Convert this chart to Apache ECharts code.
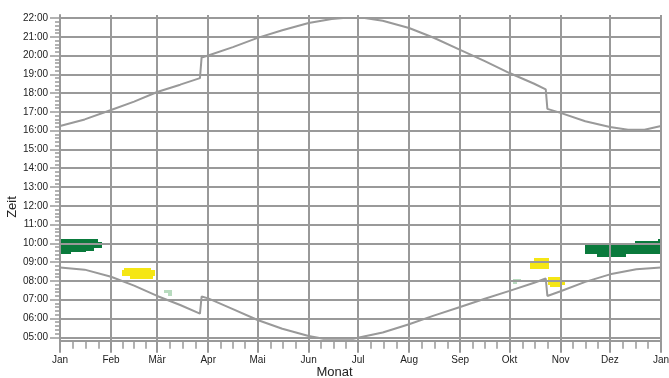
<!DOCTYPE html>
<html>
<head>
<meta charset="utf-8">
<script src="https://cdn.jsdelivr.net/npm/echarts@6/dist/echarts.min.js"></script>
<style>html,body{margin:0;padding:0;background:#fff}#c{width:669px;height:378px}</style>
</head>
<body>
<div id="c"></div>
<script>
// ---- data ----
var monthNames = ['Jan','Feb','Mär','Apr','Mai','Jun','Jul','Aug','Sep','Okt','Nov','Dez','Jan'];
var monthStarts = [0,31,59,90,120,151,181,212,243,273,304,334,365];
var hourTicks = [5,6,7,8,9,10,11,12,13,14,15,16,17,18,19,20,21,22];
var xTitle = 'Monat';
var yTitle = 'Zeit';

// sunset (upper line): [dayOfYear, hours]
var sunsetLine = [
  [0,16.25],[15,16.6],[31,17.1],[45,17.55],[59,18.06],[73,18.45],[85,18.8],[86,19.9],[90,20.0],
  [105,20.45],[120,20.94],[135,21.35],[151,21.73],[165,21.95],[172,22.0],[185,22.0],[196,21.85],
  [212,21.47],[227,20.95],[243,20.3],[258,19.7],[273,19.07],[288,18.5],[295,18.2],[296,17.16],
  [304,16.95],[319,16.5],[334,16.2],[345,16.05],[355,16.05],[365,16.25]
];
// sunrise (lower line)
var sunriseLine = [
  [0,8.72],[15,8.6],[31,8.22],[45,7.75],[59,7.2],[73,6.72],[85,6.26],[86,7.17],[90,7.07],
  [105,6.5],[120,5.92],[135,5.45],[151,5.07],[160,4.92],[178,4.92],[196,5.25],[212,5.69],
  [227,6.15],[243,6.61],[258,7.05],[273,7.47],[288,7.9],[295,8.13],[296,7.2],[304,7.45],
  [319,7.95],[334,8.35],[350,8.62],[365,8.72]
];
// patches: [dayStart, dayEnd, timeStart, timeEnd]
var darkGreenCells = [
  [0.5,23,10.07,10.22],[0.5,25.5,9.77,10.07],[0.5,20.6,9.62,9.77],[0.5,16,9.55,9.62],[0.5,6.7,9.45,9.55],
  [319,365,9.45,9.9],[322,349,9.9,10.0],[349,365,9.9,10.12],[363,365,10.12,10.23],[326,344,9.27,9.45]
];
var yellowCells = [
  [39,55.3,8.58,8.70],[37.7,57.7,8.26,8.58],[42.5,56.5,8.10,8.26],
  [288,297,9.01,9.22],[285.7,297,8.66,9.01],
  [296.4,303.6,8.05,8.22],[296.4,306.7,7.78,8.05],[297.6,303.6,7.68,7.78]
];
var lightGreenCells = [
  [63.2,68,7.36,7.52],[65.6,68,7.21,7.36],
  [275.1,280,7.97,8.09],[275.1,277.5,7.82,7.97]
];

// ---- chart ----
var minorX = [];
for (var i = 0; i < monthStarts.length - 1; i++) {
  var s = monthStarts[i], L = monthStarts[i+1] - s;
  minorX.push(s + L/4, s + L/2, s + 3*L/4);
}
var minorY = [];
for (var h = 5; h < 22; h++) { for (var k = 1; k < 5; k++) minorY.push(h + k/5); }

var gray = '#999999';
var font = "'Liberation Sans', Arial, sans-serif";
function pad(n){return (n<10?'0':'')+n;}

function rectItem(params, api) {
  var p0 = api.coord([api.value(0), api.value(3)]);
  var p1 = api.coord([api.value(1), api.value(2)]);
  var x0 = Math.round(p0[0]), y0 = Math.round(p0[1]), x1 = Math.round(p1[0]), y1 = Math.round(p1[1]);
  return {type:'rect', shape:{x:x0, y:y0, width:x1-x0, height:y1-y0},
          style:{fill: api.visual('color'), stroke:null}};
}

var chart = echarts.init(document.getElementById('c'), null, {renderer:'canvas'});
chart.setOption({
  animation:false,
  grid:{left:60, right:8, top:15, bottom:37.3, containLabel:false, outerBoundsMode:'none'},
  graphic:[
    {type:'text', left:'center', x:0, top:366, style:{text:xTitle, font:"13px 'Liberation Sans', Arial, sans-serif", fill:'#222'}},
    {type:'text', x:6, y:207, rotation:Math.PI/2, style:{text:yTitle, font:"13px 'Liberation Sans', Arial, sans-serif", fill:'#222', align:'center', verticalAlign:'top'}}
  ],
  xAxis:[{
    type:'value', min:0, max:365, position:'bottom',
    axisLine:{show:true, lineStyle:{color:gray, width:2}},
    axisTick:{show:true, length:12, customValues:monthStarts, lineStyle:{color:gray, width:2}},
    axisLabel:{show:true, customValues:monthStarts, margin:15, fontFamily:font, fontSize:10, color:'#222',
      formatter:function(v){var i=monthStarts.indexOf(Math.round(v)); return i>=0?monthNames[i]:'';}},
    splitLine:{show:true, lineStyle:{color:gray, width:2}}
  },{
    type:'value', min:0, max:365, position:'bottom',
    axisLine:{show:false},
    axisTick:{show:true, length:8, customValues:minorX, lineStyle:{color:gray, width:1.5}},
    axisLabel:{show:false},
    splitLine:{show:false}
  }],
  yAxis:[{
    type:'value', min:4.817, max:22.16, position:'left',
    axisLine:{show:true, lineStyle:{color:gray, width:2}},
    axisTick:{show:true, length:10, customValues:hourTicks, lineStyle:{color:gray, width:1.5}},
    axisLabel:{show:true, customValues:hourTicks, margin:12, fontFamily:font, fontSize:10, color:'#222',
      formatter:function(v){return pad(Math.round(v))+':00';}},
    splitLine:{show:true, lineStyle:{color:gray, width:2}}
  },{
    type:'value', min:4.817, max:22.16, position:'left',
    axisLine:{show:false},
    axisTick:{show:true, length:5, customValues:minorY, lineStyle:{color:gray, width:1.5}},
    axisLabel:{show:false},
    splitLine:{show:false}
  }],
  series:[
    {type:'custom', z:-1, renderItem:rectItem, itemStyle:{color:'#0a7a3c'}, data:darkGreenCells, silent:true},
    {type:'custom', z:-1, renderItem:rectItem, itemStyle:{color:'#f5e614'}, data:yellowCells, silent:true},
    {type:'custom', z:-1, renderItem:rectItem, itemStyle:{color:'#b8dbbf'}, data:lightGreenCells, silent:true},
    {type:'line', data:sunsetLine, showSymbol:false, lineStyle:{color:gray, width:2}, z:5},
    {type:'line', data:sunriseLine, showSymbol:false, lineStyle:{color:gray, width:2}, z:5}
  ]
});
</script>
</body>
</html>
